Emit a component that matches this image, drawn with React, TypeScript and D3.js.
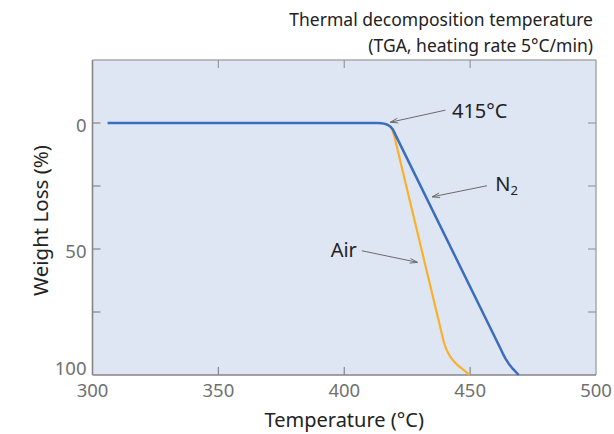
import React from "react";
import * as d3 from "d3";

const n2Temp = [306, 413.2, 414.8, 416.2, 417.4, 418.4, 419.3, 420.3, 462.0, 463.0, 464.1, 465.4, 467.0, 469.3];
const n2Loss = [0, 0, 0.1, 0.35, 0.8, 1.5, 2.5, 4.6, 89.4, 91.5, 93.6, 95.6, 97.6, 100];
const airTemp = [418.4, 419.1, 419.8, 439.5, 440.2, 441.0, 442.2, 443.7, 445.5, 447.5, 449.8];
const airLoss = [1.5, 2.8, 4.9, 86.7, 88.9, 90.8, 92.9, 94.8, 96.5, 98.1, 100];
const xTicks = [300, 350, 400, 450, 500];
const yTicks = [0, 25, 50, 75, 100];
const yTickLabels = ["0", "", "50", "", "100"];
const titleLines = ["Thermal decomposition temperature", "(TGA, heating rate 5°C/min)"];
const annotations = [
  { label: "415°C", sub: "", tx: 442.8, ty: -1.8, anchor: "start", fromX: 440.2, fromY: -5.1, toX: 418.3, toY: -0.3 },
  { label: "N", sub: "2", tx: 460, ty: 27.1, anchor: "start", fromX: 456.7, fromY: 24.9, toX: 434.9, toY: 29.3 },
  { label: "Air", sub: "", tx: 405, ty: 53, anchor: "end", fromX: 407, fromY: 50.7, toX: 429.1, toY: 55.3 },
];

const W = 614;
const H = 434;
const M = { left: 92.5, right: 596, top: 60, bottom: 375 };
const FONT = "'Noto Sans', 'Open Sans', sans-serif";

export default function App() {
  const x = d3.scaleLinear().domain([300, 500]).range([M.left, M.right]);
  const y = d3.scaleLinear().domain([-25, 100]).range([M.top, M.bottom]);
  const line = d3
    .line<[number, number]>()
    .x((d) => x(d[0]))
    .y((d) => y(d[1]))
    .curve(d3.curveLinear);
  const n2 = n2Temp.map((t, i) => [t, n2Loss[i]] as [number, number]);
  const air = airTemp.map((t, i) => [t, airLoss[i]] as [number, number]);
  const tickLen = 8;
  const axisColor = "#858585";

  return (
    <svg
      width={W}
      height={H}
      style={{ position: "absolute", left: 0, top: 0, fontFamily: FONT }}
    >
      <rect x={M.left} y={M.top} width={M.right - M.left} height={M.bottom - M.top} fill="#dfe6f3" />
      <line x1={M.left} x2={M.right} y1={M.top} y2={M.top} stroke="#a9a9a9" strokeWidth={1.5} />
      <line x1={M.right} x2={M.right} y1={M.top} y2={M.bottom} stroke="#a9a9a9" strokeWidth={1.5} />
      {xTicks.slice(1, -1).map((t) => (
        <g key={"xt" + t}>
          <line x1={x(t)} x2={x(t)} y1={M.bottom} y2={M.bottom - tickLen} stroke={axisColor} strokeWidth={1.2} />
          <line x1={x(t)} x2={x(t)} y1={M.top} y2={M.top + tickLen} stroke="#999" strokeWidth={1.2} />
        </g>
      ))}
      {yTicks.slice(0, -1).map((t) => (
        <g key={"yt" + t}>
          <line x1={M.left} x2={M.left + tickLen} y1={y(t)} y2={y(t)} stroke={axisColor} strokeWidth={1.2} />
          <line x1={M.right} x2={M.right - tickLen} y1={y(t)} y2={y(t)} stroke="#999" strokeWidth={1.2} />
        </g>
      ))}
      <line x1={M.left} x2={M.right} y1={M.bottom} y2={M.bottom} stroke={axisColor} strokeWidth={1.6} />
      <line x1={M.left} x2={M.left} y1={M.top} y2={M.bottom} stroke={axisColor} strokeWidth={1.6} />
      {xTicks.map((t) => (
        <text key={"xl" + t} x={x(t)} y={397} textAnchor="middle" fontSize={18.5} fill="#707070">
          {t}
        </text>
      ))}
      {yTicks.map((t, i) =>
        yTickLabels[i] ? (
          <text
            key={"yl" + t}
            x={M.left - 6}
            y={i === yTicks.length - 1 ? y(t) - 8 : y(t) + 1}
            textAnchor="end"
            dominantBaseline="central"
            fontSize={18.5}
            fill="#707070"
          >
            {yTickLabels[i]}
          </text>
        ) : null
      )}
      <text x={(M.left + M.right) / 2} y={427} textAnchor="middle" fontSize={20} fill="#222">
        Temperature (°C)
      </text>
      <text
        transform={`translate(40,${(143 + 298) / 2}) rotate(-90)`}
        textAnchor="middle"
        dominantBaseline="central"
        fontSize={20.5}
        fill="#222"
      >
        Weight Loss (%)
      </text>
      {titleLines.map((s, i) => (
        <text key={"tl" + i} x={593} y={26 + i * 26} textAnchor="end" fontSize={17.5} fill="#222">
          {s}
        </text>
      ))}
      <path d={line(air) || ""} fill="none" stroke="#f9b12c" strokeWidth={2.2} strokeLinejoin="round" />
      <path d={line(n2) || ""} fill="none" stroke="#3a6dbf" strokeWidth={2.5} strokeLinejoin="round" />
      {annotations.map((a, i) => {
        const x1 = x(a.fromX), y1 = y(a.fromY), x2 = x(a.toX), y2 = y(a.toY);
        const ang = Math.atan2(y2 - y1, x2 - x1);
        const L = 8, s = 0.3;
        const hx1 = x2 - L * Math.cos(ang - s), hy1 = y2 - L * Math.sin(ang - s);
        const hx2 = x2 - L * Math.cos(ang + s), hy2 = y2 - L * Math.sin(ang + s);
        return (
          <g key={"an" + i}>
            <line x1={x1} y1={y1} x2={x2} y2={y2} stroke="#6a6a6a" strokeWidth={1} />
            <path d={`M${hx1},${hy1}L${x2},${y2}L${hx2},${hy2}`} fill="none" stroke="#6a6a6a" strokeWidth={1} />
            <text x={x(a.tx)} y={y(a.ty)} textAnchor={a.anchor} fontSize={20} fill="#222">
              {a.label}
              {a.sub ? (
                <tspan fontSize={13} dy={4}>
                  {a.sub}
                </tspan>
              ) : null}
            </text>
          </g>
        );
      })}
    </svg>
  );
}
